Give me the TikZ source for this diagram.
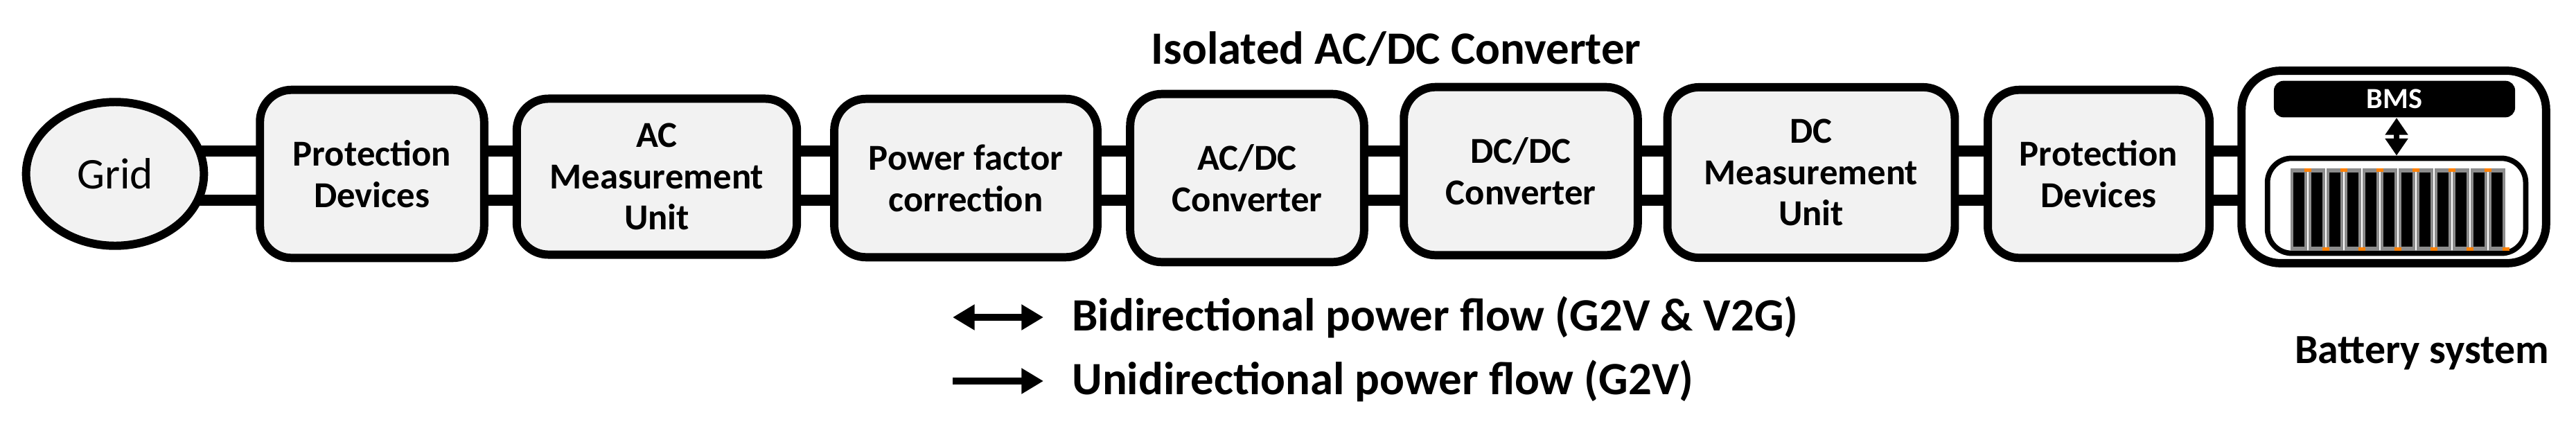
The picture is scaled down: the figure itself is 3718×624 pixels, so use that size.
\documentclass[tikz,border=0pt]{standalone}
\usepackage{fontspec}
\setmainfont{Carlito}
\usetikzlibrary{shapes.geometric,arrows.meta,backgrounds}
\begin{document}
\begin{tikzpicture}[x=0.01cm,y=-0.01cm,
  blk/.style={draw,line width=3.4pt,fill=black!5,rounded corners=13pt,align=center,font=\bfseries\fontsize{15}{17}\selectfont,inner sep=0pt},
  wire/.style={line width=4.3pt},
  leg/.style={line width=2.6pt,-{Triangle[length=9pt,width=10pt]}}]
\useasboundingbox (0,0) rectangle (3718,624);
\node[ellipse,draw,line width=3.4pt,fill=black!5,inner sep=0pt,minimum width=73pt,minimum height=59pt,font=\fontsize{18}{20}\selectfont] (g) at (166,251) {Grid};
\node[blk,minimum width=92pt,minimum height=69pt] (p1) at (537,251) {Protection\\Devices};
\node[blk,minimum width=115pt,minimum height=64pt] (ac) at (948,255) {AC\\Measurement\\Unit};
\node[blk,minimum width=108pt,minimum height=65pt] (pf) at (1394,257) {Power factor\\correction};
\node[blk,minimum width=96pt,minimum height=69pt] (acdc) at (1800,257) {AC/DC\\Converter};
\node[blk,minimum width=96pt,minimum height=69pt] (dcdc) at (2195,247) {DC/DC\\Converter};
\node[blk,minimum width=118pt,minimum height=70pt] (dcm) at (2614,249) {DC\\Measurement\\Unit};
\node[blk,minimum width=91pt,minimum height=69pt] (p2) at (3029,251) {Protection\\Devices};
\node[draw,fill=white,line width=3.4pt,rounded corners=16pt,minimum width=125pt,minimum height=79pt,inner sep=0pt] (bat) at (3455,241) {};
\node[fill=black,rounded corners=4pt,minimum width=99pt,minimum height=15pt,inner sep=0pt,text=white,font=\bfseries\fontsize{12}{13}\selectfont] (bms) at (3456,143) {BMS};
\node[draw,line width=2.2pt,rounded corners=10pt,minimum width=106pt,minimum height=39pt,inner sep=0pt] (cells) at (3459,297) {};
\foreach \i in {0,...,11}{
  \pgfmathsetmacro\cx{3318+\i*26}
  \fill[black!45] (\cx-12,243) rectangle (\cx+12,362);
  \fill[black] (\cx-8,249) rectangle (\cx+8,356);
}
\foreach \i in {0,...,5}{
  \pgfmathsetmacro\cx{3331+\i*52}
  \fill[orange] (\cx-5,243) rectangle (\cx+5,248);
  \fill[orange] (\cx-5+26,357) rectangle (\cx+5+26,362);
}
\draw[line width=2.5pt,{Triangle[length=7pt,width=9pt]}-{Triangle[length=7pt,width=9pt]}] (bms.south -| 3459,0) -- (cells.north -| 3459,0);
\coordinate (L1) at (0,218);
\coordinate (L2) at (0,289);
\begin{scope}[on background layer]
\foreach \a/\b in {g/p1,p1/ac,ac/pf,pf/acdc,acdc/dcdc,dcdc/dcm,dcm/p2,p2/bat}{
  \draw[wire] (\a.center|-L1) -- (\b.center|-L1);
  \draw[wire] (\a.center|-L2) -- (\b.center|-L2);
}
\end{scope}
\node[font=\bfseries\fontsize{19}{22}\selectfont] (title) at (2015,71) {Isolated AC/DC Converter};
\coordinate (a1) at (1375,458); \coordinate (a2) at (1506,458);
\coordinate (b1) at (1375,550); \coordinate (b2) at (1506,550);
\draw[leg,{Triangle[length=9pt,width=10pt]}-{Triangle[length=9pt,width=10pt]}] (a1) -- (a2);
\draw[leg] (b1) -- (b2);
\node[anchor=west,font=\bfseries\fontsize{19}{22}\selectfont] (t1) at (1535,458) {Bidirectional power flow (G2V \& V2G)};
\node[anchor=west,font=\bfseries\fontsize{19}{22}\selectfont] (t2) at (1535,550) {Unidirectional power flow (G2V)};
\node[anchor=east,inner sep=0pt,font=\bfseries\fontsize{17}{20}\selectfont] (bs) at (3680,510) {Battery system};
\end{tikzpicture}
\end{document}
